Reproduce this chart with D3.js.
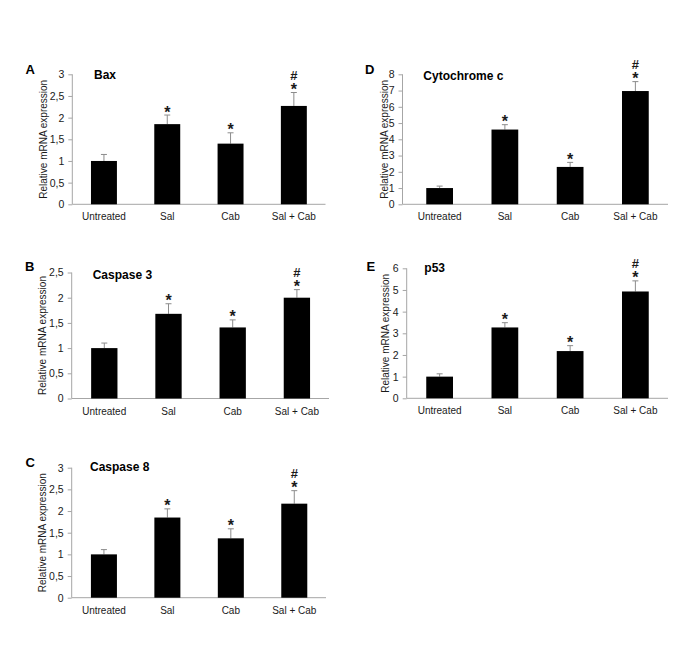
<!DOCTYPE html>
<html>
<head>
<meta charset="utf-8">
<script src="https://cdn.jsdelivr.net/npm/d3@7/dist/d3.min.js"></script>
<style>
  html, body { margin: 0; padding: 0; background: #fff; }
  svg { display: block; font-family: "Liberation Sans", Arial, sans-serif; }
</style>
</head>
<body>
<svg id="chart" width="685" height="656"></svg>
<script>
// ---- data ----
const categories = ["Untreated", "Sal", "Cab", "Sal + Cab"];

const baxValues   = [1.00, 1.85, 1.40, 2.27];
const baxErrors   = [0.15, 0.21, 0.25, 0.31];

const casp3Values = [1.00, 1.68, 1.41, 2.00];
const casp3Errors = [0.10, 0.20, 0.15, 0.16];

const casp8Values = [1.00, 1.85, 1.37, 2.17];
const casp8Errors = [0.11, 0.20, 0.22, 0.30];

const cytcValues  = [1.00, 4.60, 2.30, 6.97];
const cytcErrors  = [0.12, 0.30, 0.28, 0.58];

const p53Values   = [1.00, 3.27, 2.18, 4.93];
const p53Errors   = [0.13, 0.22, 0.25, 0.49];

const starMarks = [false, true, true, true];
const hashMarks = [false, false, false, true];

const ticks3   = [0, 0.5, 1, 1.5, 2, 2.5, 3];
const ticks25  = [0, 0.5, 1, 1.5, 2, 2.5];
const ticks8   = [0, 1, 2, 3, 4, 5, 6, 7, 8];
const ticks6   = [0, 1, 2, 3, 4, 5, 6];

const yTitle = "Relative mRNA expression";

// ---- layout (positions only) ----
const panels = [
  { letter: "A", title: "Bax",          values: baxValues,   errors: baxErrors,   ticks: ticks3,
    axisX: 72.3, bandStart: 72.3, xEnd: 325.5, y0: 204.3, yTop: 74.3,
    letterX: 25.5, letterY: 74, titleX: 94, titleY: 78.5, yTitleX: 47.2 },
  { letter: "B", title: "Caspase 3",    values: casp3Values, errors: casp3Errors, ticks: ticks25,
    axisX: 71.7, bandStart: 72.2, xEnd: 329, y0: 398.5, yTop: 272.5,
    letterX: 25, letterY: 270.5, titleX: 92.7, titleY: 278.5, yTitleX: 45.5 },
  { letter: "C", title: "Caspase 8",    values: casp8Values, errors: casp8Errors, ticks: ticks3,
    axisX: 71.7, bandStart: 72.2, xEnd: 326, y0: 597.7, yTop: 467.7,
    letterX: 25.5, letterY: 467, titleX: 90, titleY: 471, yTitleX: 46 },
  { letter: "D", title: "Cytochrome c", values: cytcValues,  errors: cytcErrors,  ticks: ticks8,
    axisX: 402.5, bandStart: 407, xEnd: 668, y0: 204.3, yTop: 74.3,
    letterX: 365, letterY: 74, titleX: 423.3, titleY: 79.5, yTitleX: 388 },
  { letter: "E", title: "p53",          values: p53Values,   errors: p53Errors,   ticks: ticks6,
    axisX: 406.7, bandStart: 407, xEnd: 668, y0: 398.3, yTop: 268.3,
    letterX: 366.5, letterY: 271, titleX: 424.3, titleY: 272, yTitleX: 389 }
];

const svg = d3.select("#chart");
const fmt = v => String(v).replace(".", ",");
const axisColor = "#a6a6a6";
const textColor = "#1a1a1a";

panels.forEach(p => {
  const g = svg.append("g");
  const maxV = p.ticks[p.ticks.length - 1];

  const x = d3.scaleBand()
    .domain(categories)
    .range([p.bandStart, p.xEnd])
    .paddingInner(0.59)
    .paddingOuter(0.295);

  const y = d3.scaleLinear().domain([0, maxV]).range([p.y0, p.yTop]);

  // y axis
  const yAxis = d3.axisLeft(y).tickValues(p.ticks).tickFormat(fmt).tickSize(4).tickPadding(4);
  const ya = g.append("g").attr("transform", `translate(${p.axisX},0)`).call(yAxis);
  ya.select(".domain").attr("stroke", axisColor).attr("d", `M0,${p.y0}V${p.yTop}`);
  ya.selectAll(".tick line").attr("stroke", axisColor);
  ya.selectAll(".tick text").attr("fill", textColor).style("font-size", "10.5px")
    .style("font-family", "'Liberation Sans', Arial, sans-serif");

  // x axis line
  g.append("line")
    .attr("x1", p.axisX).attr("x2", p.xEnd)
    .attr("y1", p.y0).attr("y2", p.y0)
    .attr("stroke", axisColor).attr("stroke-width", 1);

  // x labels
  g.selectAll("text.xl").data(categories).enter().append("text")
    .attr("class", "xl")
    .attr("x", d => x(d) + x.bandwidth() / 2)
    .attr("y", p.y0 + 16)
    .attr("text-anchor", "middle")
    .attr("fill", textColor)
    .style("font-size", "10px")
    .text(d => d);

  // error bars (upper only)
  const data = categories.map((c, i) => ({ c, v: p.values[i], e: p.errors[i], i }));
  g.selectAll("line.err").data(data).enter().append("line")
    .attr("class", "err")
    .attr("x1", d => x(d.c) + x.bandwidth() / 2)
    .attr("x2", d => x(d.c) + x.bandwidth() / 2)
    .attr("y1", d => y(d.v))
    .attr("y2", d => y(d.v + d.e))
    .attr("stroke", "#8c8c8c").attr("stroke-width", 1);
  g.selectAll("line.cap").data(data).enter().append("line")
    .attr("class", "cap")
    .attr("x1", d => x(d.c) + x.bandwidth() / 2 - 3)
    .attr("x2", d => x(d.c) + x.bandwidth() / 2 + 3)
    .attr("y1", d => y(d.v + d.e))
    .attr("y2", d => y(d.v + d.e))
    .attr("stroke", "#8c8c8c").attr("stroke-width", 1);

  // bars
  g.selectAll("rect.bar").data(data).enter().append("rect")
    .attr("class", "bar")
    .attr("x", d => x(d.c))
    .attr("width", x.bandwidth())
    .attr("y", d => y(d.v))
    .attr("height", d => p.y0 - y(d.v))
    .attr("fill", "#000");

  // significance marks
  g.selectAll("text.star").data(data.filter(d => starMarks[d.i])).enter().append("text")
    .attr("class", "star")
    .attr("x", d => x(d.c) + x.bandwidth() / 2)
    .attr("y", d => y(d.v + d.e) + 2.5)
    .attr("text-anchor", "middle")
    .attr("fill", textColor)
    .style("font-size", "16px").style("font-weight", "bold")
    .text("*");
  g.selectAll("text.hash").data(data.filter(d => hashMarks[d.i])).enter().append("text")
    .attr("class", "hash")
    .attr("x", d => x(d.c) + x.bandwidth() / 2)
    .attr("y", d => y(d.v + d.e) - 13)
    .attr("text-anchor", "middle")
    .attr("fill", textColor)
    .style("font-size", "13px").style("font-weight", "bold")
    .text("#");

  // y title
  g.append("text")
    .attr("transform", `translate(${p.yTitleX},${(p.y0 + p.yTop) / 2}) rotate(-90)`)
    .attr("text-anchor", "middle")
    .attr("fill", textColor)
    .style("font-size", "10px")
    .text(yTitle);

  // panel letter
  g.append("text")
    .attr("x", p.letterX).attr("y", p.letterY)
    .attr("fill", "#000")
    .style("font-size", "13px").style("font-weight", "bold")
    .text(p.letter);

  // panel title
  g.append("text")
    .attr("x", p.titleX).attr("y", p.titleY)
    .attr("fill", "#000")
    .style("font-size", "12px").style("font-weight", "bold")
    .text(p.title);
});
</script>
</body>
</html>
